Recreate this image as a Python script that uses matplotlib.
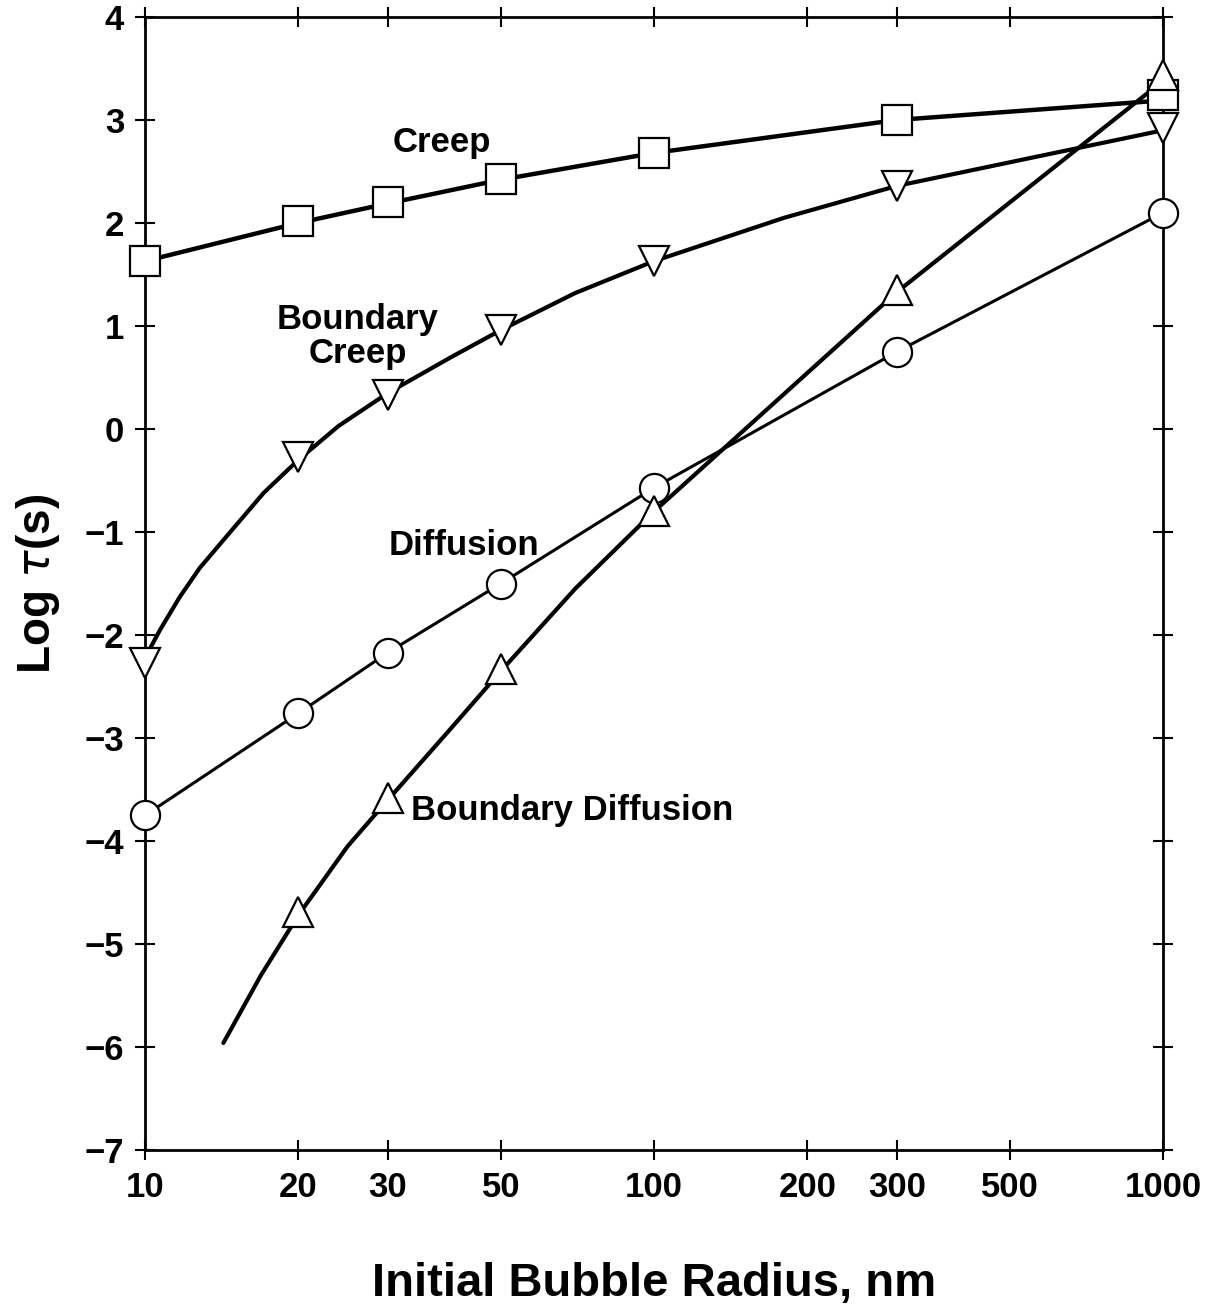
import numpy as np
import matplotlib.pyplot as plt

# ------ Data ------#
radius = [10, 20, 30, 50, 100, 300, 1000]          # nm
creep = [1.63, 2.02, 2.20, 2.43, 2.68, 3.00, 3.24]
bnd_creep = [-2.27, -0.27, 0.33, 0.96, 1.63, 2.36, 2.92]
diffusion = [-3.75, -2.76, -2.17, -1.50, -0.57, 0.75, 2.10]

bd_radius = [20, 30, 50, 100, 300, 1000]
bnd_diffusion = [-4.69, -3.58, -2.33, -0.80, 1.35, 3.44]

# extra points along the drawn curves (where they bend between markers)
creep_curve_y = [1.63, 2.00, 2.19, 2.42, 2.68, 3.00, 3.19]
bnd_creep_curve_x = [10, 10.7, 11.7, 12.8, 14.7, 17.1, 20, 24, 30, 40, 50, 70, 100, 180, 300, 1000]
bnd_creep_curve_y = [-2.22, -1.95, -1.63, -1.35, -1.00, -0.62, -0.30, 0.03, 0.35, 0.70, 0.96, 1.32, 1.63, 2.05, 2.36, 2.90]
bnd_diff_curve_x = [14.25, 16.9, 20, 25, 30, 40, 50, 70, 100, 300, 1000]
bnd_diff_curve_y = [-5.96, -5.30, -4.72, -4.05, -3.60, -2.90, -2.35, -1.55, -0.80, 1.33, 3.38]

xticks = [10, 20, 30, 50, 100, 200, 300, 500, 1000]
yticks = [-7, -6, -5, -4, -3, -2, -1, 0, 1, 2, 3, 4]
#--------------------------------------#

plt.rcParams['font.family'] = ['Liberation Sans', 'DejaVu Sans']
plt.rcParams['mathtext.fontset'] = 'dejavusans'

fig = plt.figure(figsize=(12.09, 13.04), dpi=100)
ax = fig.add_axes([0.12, 0.118, 0.842, 0.869])

mk = dict(color='black', markerfacecolor='white', markeredgecolor='black',
          markeredgewidth=1.6, linestyle='none', markersize=21, zorder=3, clip_on=False)

ax.plot(radius, creep_curve_y, color='black', lw=3.2, zorder=2, solid_capstyle='round')
ax.plot(radius, creep, marker='s', **mk)

ax.plot(bnd_creep_curve_x, bnd_creep_curve_y, color='black', lw=3.0, zorder=2,
        solid_capstyle='round', solid_joinstyle='round')
ax.plot(radius, bnd_creep, marker='v', **mk)

ax.plot(radius, diffusion, color='black', lw=2.2, zorder=2, solid_capstyle='round')
ax.plot(radius, diffusion, marker='o', **mk)

ax.plot(bnd_diff_curve_x, bnd_diff_curve_y, color='black', lw=3.0, zorder=2,
        solid_capstyle='round', solid_joinstyle='round')
ax.plot(bd_radius, bnd_diffusion, marker='^', **mk)

ax.set_xscale('log')
ax.set_xlim(10, 1000)
ax.set_ylim(-7, 4)
ax.set_xticks(xticks)
ax.set_xticklabels([str(t) for t in xticks])
ax.xaxis.set_minor_locator(plt.NullLocator())
ax.set_yticks(yticks)
ax.set_yticklabels([str(t).replace('-', '\u2212') for t in yticks])

for lab in ax.get_xticklabels() + ax.get_yticklabels():
    lab.set_fontweight('bold')
    lab.set_fontsize(25)

ax.tick_params(axis='both', which='major', direction='inout', length=14, width=1.5,
               top=True, right=True, pad=8)
for s in ax.spines.values():
    s.set_linewidth(2)

txt = dict(fontsize=25, fontweight='bold', color='black')
ax.text(38.2, 2.78, 'Creep', ha='center', va='center', **txt)
ax.text(26.2, 0.90, 'Boundary\nCreep', ha='center', va='center', linespacing=1.05, **txt)
ax.text(42.4, -1.13, 'Diffusion', ha='center', va='center', **txt)
ax.text(33.3, -3.70, 'Boundary Diffusion', ha='left', va='center', **txt)

ax.set_xlabel('Initial Bubble Radius, nm', fontsize=34, fontweight='bold', labelpad=42)
ax.set_ylabel(r'Log $\tau$(s)', fontsize=33, fontweight='bold', labelpad=16)

fig.savefig('out.png', dpi=100)
